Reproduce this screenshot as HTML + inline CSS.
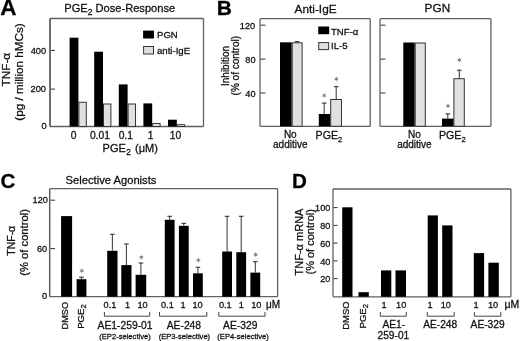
<!DOCTYPE html>
<html><head><meta charset="utf-8"><style>
html,body{margin:0;padding:0;background:#fff;}
body{width:520px;height:341px;overflow:hidden;}
svg{display:block;font-family:"Liberation Sans", sans-serif;filter:grayscale(1) blur(0.3px);} text{stroke:#111;stroke-width:0.28px;}
</style></head><body>
<svg width="520" height="341" viewBox="0 0 520 341">
<rect width="520" height="341" fill="#fff"/>
<text x="0.2" y="14.8" font-size="22.5" text-anchor="start" font-weight="bold" fill="#000" >A</text>
<text x="64.3" y="12.1" font-size="11.1" fill="#111">PGE<tspan font-size="8.6" dy="3.2">2</tspan><tspan dy="-3.2"> Dose-Response</tspan></text>
<line x1="50" y1="18.5" x2="203.5" y2="18.5" stroke="#606060" stroke-width="1.3"/>
<line x1="203.5" y1="18.5" x2="203.5" y2="126.5" stroke="#606060" stroke-width="1.3"/>
<line x1="50" y1="126.5" x2="203.5" y2="126.5" stroke="#606060" stroke-width="1.3"/>
<line x1="50" y1="18.5" x2="50" y2="126.5" stroke="#606060" stroke-width="1.8"/>
<line x1="51" y1="50.4" x2="55" y2="50.4" stroke="#333" stroke-width="1"/>
<line x1="51" y1="89.1" x2="55" y2="89.1" stroke="#333" stroke-width="1"/>
<text x="46.2" y="53.5" font-size="9.3" text-anchor="end" fill="#111">400</text>
<text x="46.0" y="91.9" font-size="9.3" text-anchor="end" fill="#111">200</text>
<text x="46.6" y="128.9" font-size="9.3" text-anchor="end" fill="#111">0</text>
<text transform="translate(9.6,69.7) rotate(-90)" font-size="11.8" text-anchor="middle" fill="#111" >TNF-α</text>
<text transform="translate(22.6,72) rotate(-90)" font-size="11.7" text-anchor="middle" fill="#111" >(pg / million hMCs)</text>
<rect x="69.6" y="37.7" width="8.799999999999997" height="88.8" fill="#000" stroke="none" stroke-width="0"/>
<rect x="78.89999999999999" y="102.3" width="7.400000000000006" height="24.200000000000003" fill="#e0e0e0" stroke="#333" stroke-width="1"/>
<rect x="94.19999999999999" y="51.7" width="8.799999999999997" height="74.8" fill="#000" stroke="none" stroke-width="0"/>
<rect x="103.49999999999999" y="104.0" width="7.400000000000006" height="22.5" fill="#e0e0e0" stroke="#333" stroke-width="1"/>
<rect x="118.8" y="84.4" width="8.799999999999997" height="42.099999999999994" fill="#000" stroke="none" stroke-width="0"/>
<rect x="128.1" y="104.0" width="7.400000000000006" height="22.5" fill="#e0e0e0" stroke="#333" stroke-width="1"/>
<rect x="143.4" y="103.4" width="8.800000000000011" height="23.099999999999994" fill="#000" stroke="none" stroke-width="0"/>
<rect x="152.70000000000002" y="123.5" width="7.399999999999977" height="3.0" fill="#e0e0e0" stroke="#333" stroke-width="1"/>
<rect x="168.0" y="119.7" width="8.800000000000011" height="6.799999999999997" fill="#000" stroke="none" stroke-width="0"/>
<rect x="177.3" y="124.7" width="7.399999999999977" height="1.7999999999999972" fill="#e0e0e0" stroke="#333" stroke-width="1"/>
<rect x="143.1" y="30.6" width="10.900000000000006" height="7.899999999999999" fill="#000" stroke="none" stroke-width="0"/>
<rect x="143.6" y="46.5" width="9.900000000000006" height="7.5" fill="#e0e0e0" stroke="#333" stroke-width="1"/>
<text x="157" y="38.2" font-size="9.6" text-anchor="start" font-weight="normal" fill="#111" >PGN</text>
<text x="157" y="53.5" font-size="9.6" text-anchor="start" font-weight="normal" fill="#111" >anti-IgE</text>
<text x="73.5" y="138.6" font-size="10.3" text-anchor="middle" font-weight="normal" fill="#111" >0</text>
<text x="99.9" y="138.6" font-size="10.3" text-anchor="middle" font-weight="normal" fill="#111" >0.01</text>
<text x="125.8" y="138.6" font-size="10.3" text-anchor="middle" font-weight="normal" fill="#111" >0.1</text>
<text x="150.7" y="138.6" font-size="10.3" text-anchor="middle" font-weight="normal" fill="#111" >1</text>
<text x="175.4" y="138.6" font-size="10.3" text-anchor="middle" font-weight="normal" fill="#111" >10</text>
<text x="102.6" y="152.2" font-size="11" fill="#111">PGE<tspan font-size="8.4" dy="3.1" dx="0.3">2</tspan><tspan dy="-3.1" dx="1.2"> (μM)</tspan></text>
<text x="216.8" y="14.7" font-size="21" text-anchor="start" font-weight="bold" fill="#000" >B</text>
<text x="315.6" y="12.7" font-size="11.8" text-anchor="middle" font-weight="normal" fill="#111" >Anti-IgE</text>
<text x="437.4" y="12.1" font-size="11.8" text-anchor="middle" font-weight="normal" fill="#111" >PGN</text>
<line x1="260" y1="18.7" x2="370.2" y2="18.7" stroke="#606060" stroke-width="1.3"/>
<line x1="370.2" y1="18.7" x2="370.2" y2="126.3" stroke="#606060" stroke-width="1.3"/>
<line x1="260" y1="126.3" x2="370.2" y2="126.3" stroke="#606060" stroke-width="1.3"/>
<line x1="260" y1="18.7" x2="260" y2="126.3" stroke="#606060" stroke-width="1.3"/>
<line x1="260.5" y1="25.200000000000003" x2="265.5" y2="25.200000000000003" stroke="#333" stroke-width="1"/>
<line x1="260.5" y1="59.10000000000001" x2="265.5" y2="59.10000000000001" stroke="#333" stroke-width="1"/>
<line x1="260.5" y1="93.0" x2="265.5" y2="93.0" stroke="#333" stroke-width="1"/>
<line x1="380" y1="18.7" x2="490.9" y2="18.7" stroke="#606060" stroke-width="1.3"/>
<line x1="490.9" y1="18.7" x2="490.9" y2="126.3" stroke="#606060" stroke-width="1.3"/>
<line x1="380" y1="126.3" x2="490.9" y2="126.3" stroke="#606060" stroke-width="1.3"/>
<line x1="380" y1="18.7" x2="380" y2="126.3" stroke="#606060" stroke-width="1.3"/>
<line x1="380.5" y1="25.200000000000003" x2="385.5" y2="25.200000000000003" stroke="#333" stroke-width="1"/>
<line x1="380.5" y1="59.10000000000001" x2="385.5" y2="59.10000000000001" stroke="#333" stroke-width="1"/>
<line x1="380.5" y1="93.0" x2="385.5" y2="93.0" stroke="#333" stroke-width="1"/>
<text x="255.2" y="28.5" font-size="9.2" text-anchor="end" fill="#111">120</text>
<text x="255.6" y="63.0" font-size="9.2" text-anchor="end" fill="#111">80</text>
<text x="255.6" y="96.6" font-size="9.2" text-anchor="end" fill="#111">40</text>
<text transform="translate(229.3,66) rotate(-90)" font-size="10" text-anchor="middle" fill="#111" >Inhibition</text>
<text transform="translate(238.9,65.7) rotate(-90)" font-size="10" text-anchor="middle" fill="#111" >(% of control)</text>
<rect x="318.2" y="26.5" width="11.0" height="7.700000000000003" fill="#000" stroke="none" stroke-width="0"/>
<rect x="318.7" y="42.6" width="10.0" height="7.0" fill="#e0e0e0" stroke="#333" stroke-width="1"/>
<text x="331" y="34.5" font-size="9.6" text-anchor="start" font-weight="normal" fill="#111" >TNF-α</text>
<text x="331" y="49.2" font-size="9.6" text-anchor="start" font-weight="normal" fill="#111" >IL-5</text>
<rect x="280" y="42.3" width="11.699999999999989" height="84.0" fill="#000" stroke="none" stroke-width="0"/>
<rect x="292.2" y="42.8" width="9.900000000000034" height="83.5" fill="#e0e0e0" stroke="#333" stroke-width="1"/>
<line x1="297.1" y1="41.6" x2="297.1" y2="42.3" stroke="#333" stroke-width="1"/>
<line x1="294.8" y1="41.6" x2="299.4" y2="41.6" stroke="#333" stroke-width="1"/>
<rect x="318.8" y="114" width="11.399999999999977" height="12.299999999999997" fill="#000" stroke="none" stroke-width="0"/>
<rect x="330.7" y="99.5" width="10.800000000000011" height="26.799999999999997" fill="#e0e0e0" stroke="#333" stroke-width="1"/>
<line x1="324.2" y1="114" x2="324.2" y2="103.1" stroke="#333" stroke-width="1"/>
<line x1="321.9" y1="103.1" x2="326.5" y2="103.1" stroke="#333" stroke-width="1.1"/>
<line x1="336.2" y1="99" x2="336.2" y2="86.7" stroke="#333" stroke-width="1"/>
<line x1="333.9" y1="86.7" x2="338.5" y2="86.7" stroke="#333" stroke-width="1.1"/>
<polygon points="324.20,92.50 323.75,94.72 321.60,94.00 323.30,95.50 321.60,97.00 323.75,96.28 324.20,98.50 324.65,96.28 326.80,97.00 325.10,95.50 326.80,94.00 324.65,94.72" fill="#707070"/>
<polygon points="336.30,76.00 335.85,78.22 333.70,77.50 335.40,79.00 333.70,80.50 335.85,79.78 336.30,82.00 336.75,79.78 338.90,80.50 337.20,79.00 338.90,77.50 336.75,78.22" fill="#707070"/>
<rect x="403.3" y="42.5" width="11.399999999999977" height="83.8" fill="#000" stroke="none" stroke-width="0"/>
<rect x="415.2" y="43.0" width="10.100000000000023" height="83.3" fill="#e0e0e0" stroke="#333" stroke-width="1"/>
<rect x="442" y="118.6" width="11.600000000000023" height="7.700000000000003" fill="#000" stroke="none" stroke-width="0"/>
<rect x="453.9" y="78.7" width="10.400000000000034" height="47.599999999999994" fill="#e0e0e0" stroke="#333" stroke-width="1"/>
<line x1="447.8" y1="118.6" x2="447.8" y2="113.9" stroke="#333" stroke-width="1"/>
<line x1="445.5" y1="113.9" x2="450.1" y2="113.9" stroke="#333" stroke-width="1.1"/>
<line x1="459.3" y1="78.2" x2="459.3" y2="70.2" stroke="#333" stroke-width="1"/>
<line x1="457.0" y1="70.2" x2="461.6" y2="70.2" stroke="#333" stroke-width="1.1"/>
<polygon points="448.00,103.00 447.55,105.22 445.40,104.50 447.10,106.00 445.40,107.50 447.55,106.78 448.00,109.00 448.45,106.78 450.60,107.50 448.90,106.00 450.60,104.50 448.45,105.22" fill="#707070"/>
<polygon points="459.30,57.00 458.85,59.22 456.70,58.50 458.40,60.00 456.70,61.50 458.85,60.78 459.30,63.00 459.75,60.78 461.90,61.50 460.20,60.00 461.90,58.50 459.75,59.22" fill="#707070"/>
<text x="290.3" y="137.5" font-size="10" text-anchor="middle" font-weight="normal" fill="#111" >No</text>
<text x="290.3" y="148.2" font-size="10" text-anchor="middle" font-weight="normal" fill="#111" >additive</text>
<text x="315.59999999999997" y="139.3" font-size="10.6" fill="#111">PGE<tspan font-size="7.5" dy="3">2</tspan></text>
<text x="414.4" y="137.5" font-size="10" text-anchor="middle" font-weight="normal" fill="#111" >No</text>
<text x="414.4" y="148.2" font-size="10" text-anchor="middle" font-weight="normal" fill="#111" >additive</text>
<text x="439.0" y="139.3" font-size="10.6" fill="#111">PGE<tspan font-size="7.5" dy="3">2</tspan></text>
<text x="0.5" y="187.6" font-size="20.6" text-anchor="start" font-weight="bold" fill="#000" >C</text>
<text x="65.6" y="183.6" font-size="11.2" text-anchor="start" font-weight="normal" fill="#111" >Selective Agonists</text>
<line x1="49.7" y1="188.7" x2="277.6" y2="188.7" stroke="#606060" stroke-width="1.3"/>
<line x1="277.6" y1="188.7" x2="277.6" y2="296.7" stroke="#606060" stroke-width="1.3"/>
<line x1="49.7" y1="296.7" x2="277.6" y2="296.7" stroke="#606060" stroke-width="1.3"/>
<line x1="49.7" y1="188.7" x2="49.7" y2="296.7" stroke="#606060" stroke-width="1.5"/>
<line x1="50.5" y1="200.2" x2="55" y2="200.2" stroke="#333" stroke-width="1"/>
<line x1="50.5" y1="248.6" x2="55" y2="248.6" stroke="#333" stroke-width="1"/>
<text x="47.9" y="203.3" font-size="9.2" text-anchor="end" fill="#111">120</text>
<text x="47.2" y="251.9" font-size="9.2" text-anchor="end" fill="#111">60</text>
<text x="47.0" y="298.6" font-size="9.2" text-anchor="end" fill="#111">0</text>
<text transform="translate(15.3,240.8) rotate(-90)" font-size="10.5" text-anchor="middle" fill="#111" >TNF-α</text>
<text transform="translate(27.9,242.4) rotate(-90)" font-size="11.2" text-anchor="middle" fill="#111" >(% of control)</text>
<rect x="61.1" y="216.1" width="10.999999999999993" height="80.6" fill="#000" stroke="none" stroke-width="0"/>
<rect x="76.6" y="279.2" width="9.800000000000011" height="17.5" fill="#000" stroke="none" stroke-width="0"/>
<line x1="81.5" y1="279.2" x2="81.5" y2="277.2" stroke="#333" stroke-width="1"/>
<line x1="79.2" y1="277.2" x2="83.8" y2="277.2" stroke="#333" stroke-width="1.1"/>
<polygon points="81.90,267.80 81.45,270.02 79.30,269.30 81.00,270.80 79.30,272.30 81.45,271.58 81.90,273.80 82.35,271.58 84.50,272.30 82.80,270.80 84.50,269.30 82.35,270.02" fill="#707070"/>
<rect x="107.2" y="250.8" width="10.299999999999997" height="45.89999999999998" fill="#000" stroke="none" stroke-width="0"/>
<line x1="112.35" y1="250.8" x2="112.35" y2="234.3" stroke="#333" stroke-width="1"/>
<line x1="110.05" y1="234.3" x2="114.64999999999999" y2="234.3" stroke="#333" stroke-width="1.1"/>
<rect x="121.3" y="265.1" width="10.200000000000003" height="31.599999999999966" fill="#000" stroke="none" stroke-width="0"/>
<line x1="126.4" y1="265.1" x2="126.4" y2="244.0" stroke="#333" stroke-width="1"/>
<line x1="124.10000000000001" y1="244.0" x2="128.70000000000002" y2="244.0" stroke="#333" stroke-width="1.1"/>
<rect x="135.6" y="274.8" width="10.599999999999994" height="21.899999999999977" fill="#000" stroke="none" stroke-width="0"/>
<line x1="140.89999999999998" y1="274.8" x2="140.89999999999998" y2="263.0" stroke="#333" stroke-width="1"/>
<line x1="138.59999999999997" y1="263.0" x2="143.2" y2="263.0" stroke="#333" stroke-width="1.1"/>
<polygon points="141.30,254.20 140.85,256.42 138.70,255.70 140.40,257.20 138.70,258.70 140.85,257.98 141.30,260.20 141.75,257.98 143.90,258.70 142.20,257.20 143.90,255.70 141.75,256.42" fill="#707070"/>
<rect x="164.8" y="219.8" width="9.799999999999983" height="76.89999999999998" fill="#000" stroke="none" stroke-width="0"/>
<line x1="169.7" y1="219.8" x2="169.7" y2="216.3" stroke="#333" stroke-width="1"/>
<line x1="167.39999999999998" y1="216.3" x2="172.0" y2="216.3" stroke="#333" stroke-width="1.1"/>
<rect x="178.9" y="225.8" width="9.799999999999983" height="70.89999999999998" fill="#000" stroke="none" stroke-width="0"/>
<line x1="183.8" y1="225.8" x2="183.8" y2="223.3" stroke="#333" stroke-width="1"/>
<line x1="181.5" y1="223.3" x2="186.10000000000002" y2="223.3" stroke="#333" stroke-width="1.1"/>
<rect x="193.0" y="273.3" width="9.800000000000011" height="23.399999999999977" fill="#000" stroke="none" stroke-width="0"/>
<line x1="197.9" y1="273.3" x2="197.9" y2="267.3" stroke="#333" stroke-width="1"/>
<line x1="195.6" y1="267.3" x2="200.20000000000002" y2="267.3" stroke="#333" stroke-width="1.1"/>
<polygon points="198.30,257.30 197.85,259.52 195.70,258.80 197.40,260.30 195.70,261.80 197.85,261.08 198.30,263.30 198.75,261.08 200.90,261.80 199.20,260.30 200.90,258.80 198.75,259.52" fill="#707070"/>
<rect x="222.2" y="251.5" width="9.800000000000011" height="45.19999999999999" fill="#000" stroke="none" stroke-width="0"/>
<line x1="227.1" y1="251.5" x2="227.1" y2="216.3" stroke="#333" stroke-width="1"/>
<line x1="224.79999999999998" y1="216.3" x2="229.4" y2="216.3" stroke="#333" stroke-width="1.1"/>
<rect x="236.3" y="252.2" width="9.799999999999983" height="44.5" fill="#000" stroke="none" stroke-width="0"/>
<line x1="241.2" y1="252.2" x2="241.2" y2="216.3" stroke="#333" stroke-width="1"/>
<line x1="238.89999999999998" y1="216.3" x2="243.5" y2="216.3" stroke="#333" stroke-width="1.1"/>
<rect x="250.4" y="272.6" width="9.799999999999983" height="24.099999999999966" fill="#000" stroke="none" stroke-width="0"/>
<line x1="255.3" y1="272.6" x2="255.3" y2="261.7" stroke="#333" stroke-width="1"/>
<line x1="253.0" y1="261.7" x2="257.6" y2="261.7" stroke="#333" stroke-width="1.1"/>
<polygon points="255.70,251.60 255.25,253.82 253.10,253.10 254.80,254.60 253.10,256.10 255.25,255.38 255.70,257.60 256.15,255.38 258.30,256.10 256.60,254.60 258.30,253.10 256.15,253.82" fill="#707070"/>
<text transform="translate(67.5,315.7) rotate(-90)" font-size="9.2" text-anchor="middle" fill="#111" >DMSO</text>
<text transform="translate(83.6,328.8) rotate(-90)" font-size="9.6" fill="#111">PGE<tspan font-size="7.6" dy="2.8">2</tspan></text>
<text x="110.0" y="308.2" font-size="9.2" text-anchor="middle" font-weight="normal" fill="#111" >0.1</text>
<text x="127.6" y="308.2" font-size="9.2" text-anchor="middle" font-weight="normal" fill="#111" >1</text>
<text x="142.6" y="308.2" font-size="9.2" text-anchor="middle" font-weight="normal" fill="#111" >10</text>
<line x1="104.4" y1="316.2" x2="149.7" y2="316.2" stroke="#444" stroke-width="1"/>
<line x1="104.4" y1="312" x2="104.4" y2="316.2" stroke="#444" stroke-width="1"/>
<line x1="149.7" y1="312" x2="149.7" y2="316.2" stroke="#444" stroke-width="1"/>
<text x="125.1" y="328.8" font-size="10.3" text-anchor="middle" font-weight="normal" fill="#111" >AE1-259-01</text>
<text x="125" y="338.6" font-size="7.6" text-anchor="middle" font-weight="normal" fill="#222" >(EP2-selective)</text>
<text x="167.4" y="308.2" font-size="9.2" text-anchor="middle" font-weight="normal" fill="#111" >0.1</text>
<text x="183.1" y="308.2" font-size="9.2" text-anchor="middle" font-weight="normal" fill="#111" >1</text>
<text x="197.5" y="308.2" font-size="9.2" text-anchor="middle" font-weight="normal" fill="#111" >10</text>
<line x1="159.5" y1="316.2" x2="206.8" y2="316.2" stroke="#444" stroke-width="1"/>
<line x1="159.5" y1="312" x2="159.5" y2="316.2" stroke="#444" stroke-width="1"/>
<line x1="206.8" y1="312" x2="206.8" y2="316.2" stroke="#444" stroke-width="1"/>
<text x="183.9" y="328.8" font-size="10.3" text-anchor="middle" font-weight="normal" fill="#111" >AE-248</text>
<text x="184.4" y="338.6" font-size="7.6" text-anchor="middle" font-weight="normal" fill="#222" >(EP3-selective)</text>
<text x="225.3" y="308.2" font-size="9.2" text-anchor="middle" font-weight="normal" fill="#111" >0.1</text>
<text x="241.2" y="308.2" font-size="9.2" text-anchor="middle" font-weight="normal" fill="#111" >1</text>
<text x="256.3" y="308.2" font-size="9.2" text-anchor="middle" font-weight="normal" fill="#111" >10</text>
<line x1="218.8" y1="316.2" x2="265" y2="316.2" stroke="#444" stroke-width="1"/>
<line x1="218.8" y1="312" x2="218.8" y2="316.2" stroke="#444" stroke-width="1"/>
<line x1="265" y1="312" x2="265" y2="316.2" stroke="#444" stroke-width="1"/>
<text x="240.2" y="328.8" font-size="10.3" text-anchor="middle" font-weight="normal" fill="#111" >AE-329</text>
<text x="243.1" y="338.6" font-size="7.6" text-anchor="middle" font-weight="normal" fill="#222" >(EP4-selective)</text>
<text x="266.0" y="308.2" font-size="10" text-anchor="start" font-weight="normal" fill="#111" >μM</text>
<text x="291.9" y="187.7" font-size="20.6" text-anchor="start" font-weight="bold" fill="#000" >D</text>
<line x1="333" y1="189.0" x2="510.9" y2="189.0" stroke="#606060" stroke-width="1.3"/>
<line x1="510.9" y1="189.0" x2="510.9" y2="296.8" stroke="#606060" stroke-width="1.3"/>
<line x1="333" y1="296.8" x2="510.9" y2="296.8" stroke="#606060" stroke-width="1.3"/>
<line x1="333" y1="189.0" x2="333" y2="296.8" stroke="#606060" stroke-width="1.3"/>
<line x1="333.5" y1="207.59999999999997" x2="337.6" y2="207.59999999999997" stroke="#333" stroke-width="1"/>
<text x="330.3" y="211.2" font-size="9.1" text-anchor="end" fill="#111">100</text>
<line x1="333.5" y1="225.35999999999996" x2="337.6" y2="225.35999999999996" stroke="#333" stroke-width="1"/>
<text x="330.3" y="229.0" font-size="9.1" text-anchor="end" fill="#111">80</text>
<line x1="333.5" y1="243.11999999999998" x2="337.6" y2="243.11999999999998" stroke="#333" stroke-width="1"/>
<text x="330.3" y="246.7" font-size="9.1" text-anchor="end" fill="#111">60</text>
<line x1="333.5" y1="260.88" x2="337.6" y2="260.88" stroke="#333" stroke-width="1"/>
<text x="330.3" y="264.5" font-size="9.1" text-anchor="end" fill="#111">40</text>
<line x1="333.5" y1="278.64" x2="337.6" y2="278.64" stroke="#333" stroke-width="1"/>
<text x="330.3" y="282.2" font-size="9.1" text-anchor="end" fill="#111">20</text>
<text transform="translate(302.8,242) rotate(-90)" font-size="11" text-anchor="middle" fill="#111" >TNF-α mRNA</text>
<text transform="translate(314.1,241.8) rotate(-90)" font-size="11" text-anchor="middle" fill="#111" >(% of control)</text>
<rect x="342.2" y="207.3" width="10.300000000000011" height="89.5" fill="#000" stroke="none" stroke-width="0"/>
<rect x="358.5" y="292.2" width="10.300000000000011" height="4.600000000000023" fill="#000" stroke="none" stroke-width="0"/>
<rect x="381" y="270.4" width="10.300000000000011" height="26.400000000000034" fill="#000" stroke="none" stroke-width="0"/>
<rect x="395.5" y="270.4" width="10.5" height="26.400000000000034" fill="#000" stroke="none" stroke-width="0"/>
<rect x="427.7" y="215.4" width="10.199999999999989" height="81.4" fill="#000" stroke="none" stroke-width="0"/>
<rect x="442.2" y="225.4" width="10.300000000000011" height="71.4" fill="#000" stroke="none" stroke-width="0"/>
<rect x="473.8" y="253.1" width="10.300000000000011" height="43.70000000000002" fill="#000" stroke="none" stroke-width="0"/>
<rect x="488.4" y="262.7" width="10.400000000000034" height="34.10000000000002" fill="#000" stroke="none" stroke-width="0"/>
<text transform="translate(348.9,315.6) rotate(-90)" font-size="9.4" text-anchor="middle" fill="#111" >DMSO</text>
<text transform="translate(365.6,328.5) rotate(-90)" font-size="9.6" fill="#111">PGE<tspan font-size="7.6" dy="2.8">2</tspan></text>
<text x="384" y="308.3" font-size="9.2" text-anchor="middle" font-weight="normal" fill="#111" >1</text>
<text x="401.2" y="308.3" font-size="9.2" text-anchor="middle" font-weight="normal" fill="#111" >10</text>
<line x1="380.3" y1="316.2" x2="406.3" y2="316.2" stroke="#444" stroke-width="1"/>
<line x1="380.3" y1="312" x2="380.3" y2="316.2" stroke="#444" stroke-width="1"/>
<line x1="406.3" y1="312" x2="406.3" y2="316.2" stroke="#444" stroke-width="1"/>
<text x="430" y="308.3" font-size="9.2" text-anchor="middle" font-weight="normal" fill="#111" >1</text>
<text x="445.8" y="308.3" font-size="9.2" text-anchor="middle" font-weight="normal" fill="#111" >10</text>
<line x1="427.3" y1="316.2" x2="454.2" y2="316.2" stroke="#444" stroke-width="1"/>
<line x1="427.3" y1="312" x2="427.3" y2="316.2" stroke="#444" stroke-width="1"/>
<line x1="454.2" y1="312" x2="454.2" y2="316.2" stroke="#444" stroke-width="1"/>
<text x="476" y="308.3" font-size="9.2" text-anchor="middle" font-weight="normal" fill="#111" >1</text>
<text x="493.1" y="308.3" font-size="9.2" text-anchor="middle" font-weight="normal" fill="#111" >10</text>
<line x1="474.4" y1="316.2" x2="500.8" y2="316.2" stroke="#444" stroke-width="1"/>
<line x1="474.4" y1="312" x2="474.4" y2="316.2" stroke="#444" stroke-width="1"/>
<line x1="500.8" y1="312" x2="500.8" y2="316.2" stroke="#444" stroke-width="1"/>
<text x="393.8" y="328.4" font-size="10.2" text-anchor="middle" font-weight="normal" fill="#111" >AE1-</text>
<text x="393.4" y="338.8" font-size="10.2" text-anchor="middle" font-weight="normal" fill="#111" >259-01</text>
<text x="440.2" y="328.2" font-size="10.2" text-anchor="middle" font-weight="normal" fill="#111" >AE-248</text>
<text x="487.6" y="328.2" font-size="10.2" text-anchor="middle" font-weight="normal" fill="#111" >AE-329</text>
<text x="504.4" y="308.3" font-size="10.5" text-anchor="start" font-weight="normal" fill="#111" >μM</text>
</svg>
</body></html>
